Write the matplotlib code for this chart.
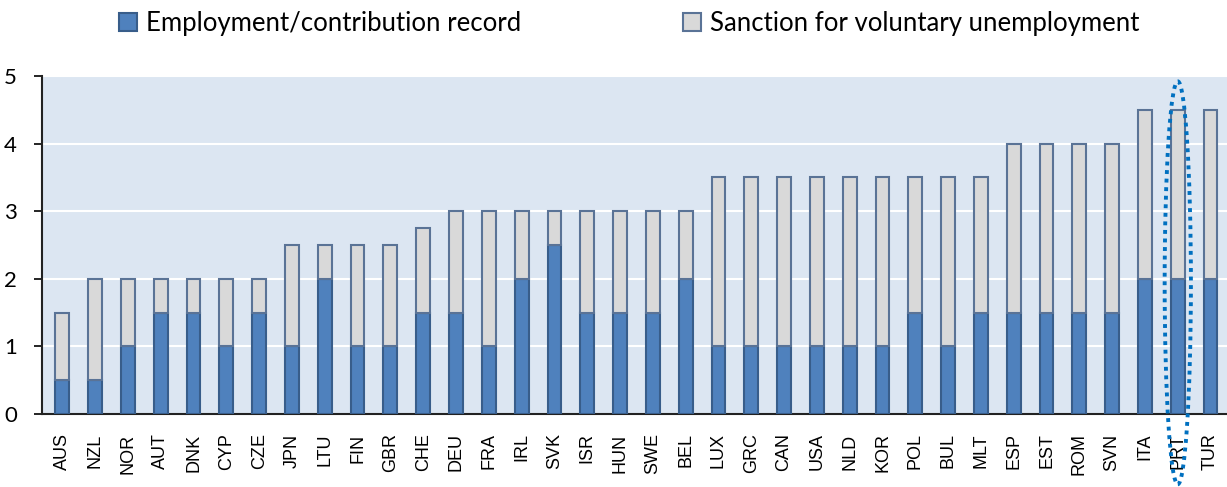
import matplotlib
matplotlib.use("Agg")
import matplotlib.pyplot as plt
from matplotlib.patches import Ellipse

countries = ["AUS", "NZL", "NOR", "AUT", "DNK", "CYP", "CZE", "JPN", "LTU", "FIN",
             "GBR", "CHE", "DEU", "FRA", "IRL", "SVK", "ISR", "HUN", "SWE", "BEL",
             "LUX", "GRC", "CAN", "USA", "NLD", "KOR", "POL", "BUL", "MLT", "ESP",
             "EST", "ROM", "SVN", "ITA", "PRT", "TUR"]
employment = [0.5, 0.5, 1, 1.5, 1.5, 1, 1.5, 1, 2, 1,
              1, 1.5, 1.5, 1, 2, 2.5, 1.5, 1.5, 1.5, 2,
              1, 1, 1, 1, 1, 1, 1.5, 1, 1.5, 1.5,
              1.5, 1.5, 1.5, 2, 2, 2]
sanction = [1, 1.5, 1, 0.5, 0.5, 1, 0.5, 1.5, 0.5, 1.5,
            1.5, 1.25, 1.5, 2, 1, 0.5, 1.5, 1.5, 1.5, 1,
            2.5, 2.5, 2.5, 2.5, 2.5, 2.5, 2, 2.5, 2, 2.5,
            2.5, 2.5, 2.5, 2.5, 2.5, 2.5]
highlight = "PRT"

plt.rcParams["font.family"] = ["Lato", "DejaVu Sans"]

fig = plt.figure(figsize=(12.27, 4.87), dpi=100)
ax = fig.add_axes([0.0342, 0.150, 0.9658, 0.694])
ax.set_facecolor("#DCE6F2")

x = range(len(countries))
ax.bar(x, employment, width=0.42, color="#4F81BD", edgecolor="#385D8A",
       linewidth=1.5, label="Employment/contribution record", zorder=3)
ax.bar(x, sanction, width=0.42, bottom=employment, color="#D9D9D9",
       edgecolor="#5A7396", linewidth=1.5,
       label="Sanction for voluntary unemployment", zorder=3)

ax.set_ylim(0, 5)
ax.set_xlim(-0.62, 35.5)
ax.set_yticks(range(6))
ax.yaxis.grid(True, color="white", linewidth=1.5, zorder=0)
ax.set_axisbelow(True)
ax.set_xticks(list(x))
ax.set_xticklabels(countries, rotation=90, fontsize=13,
                   family=["Liberation Sans", "DejaVu Sans"])
ax.tick_params(axis="y", labelsize=16, length=6, width=1.2, pad=12)
ax.tick_params(axis="x", length=0, pad=14)
for s in ["top", "right"]:
    ax.spines[s].set_visible(False)
for s in ["left", "bottom"]:
    ax.spines[s].set_color("#222222")
    ax.spines[s].set_linewidth(1.5)

# dotted ring around the highlighted country
i = countries.index(highlight)
ell = Ellipse((i, 1.94), 0.8, 5.96, fill=False, edgecolor="#0070C0",
              linestyle=(0, (1, 1.2)), linewidth=2.8, clip_on=False, zorder=5)
ax.add_patch(ell)

fig.legend(loc="upper center", bbox_to_anchor=(0.513, 1.025), ncol=2,
           frameon=False, fontsize=18.5, handlelength=0.7, handleheight=0.7,
           columnspacing=6.3, handletextpad=0.35)

fig.savefig("out.png", dpi=100)
